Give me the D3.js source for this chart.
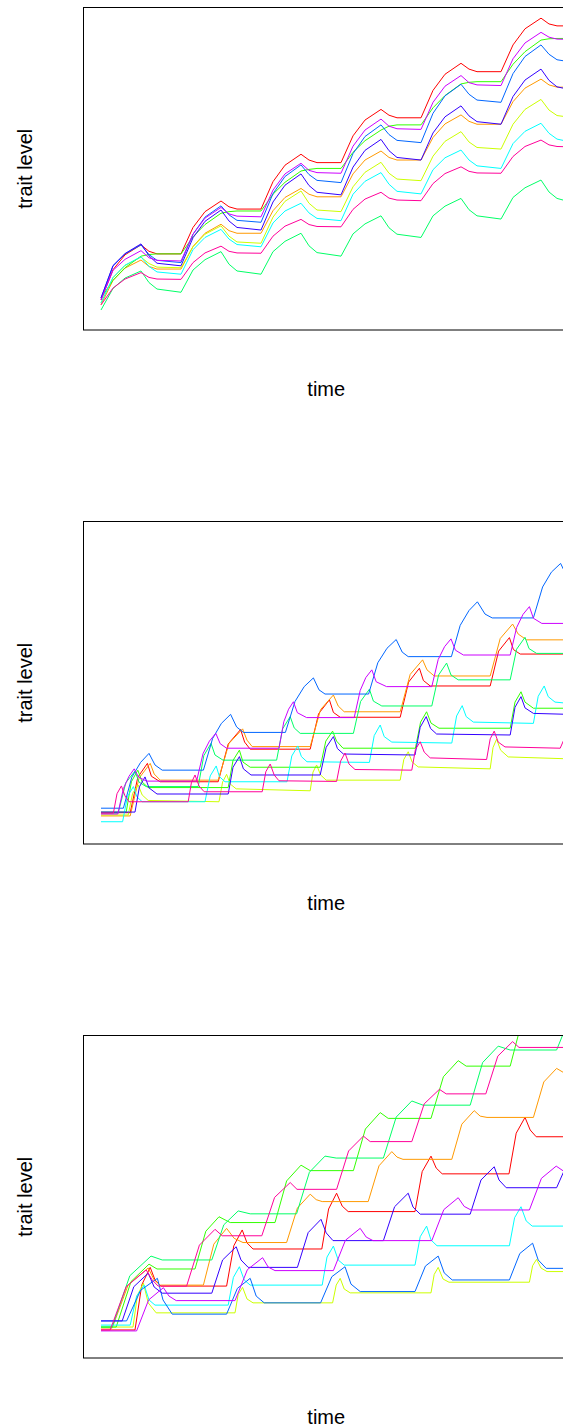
<!DOCTYPE html>
<html>
<head>
<meta charset="utf-8">
<script src="https://cdn.jsdelivr.net/npm/d3@7"></script>
<style>
  body { margin: 0; background: #fff; }
  text { font-family: "Liberation Sans", Arial, sans-serif; }
</style>
</head>
<body>
<script>
// canvas
const width = 563;
const height = 1428;

// rainbow(10) palette, drawn in this order
const colors = ['#FF0000', '#FF9900', '#CCFF00', '#33FF00', '#00FF66',
                '#00FFFF', '#0066FF', '#3300FF', '#CC00FF', '#FF0099'];

// ---------- panel 1: all series share the same time points ----------
const p1Times = [0, 3, 6, 10, 12, 14, 20, 23, 26, 30, 32, 34, 40, 43, 46, 50, 52, 54,
                 60, 63, 66, 70, 72, 74, 80, 83, 86, 90, 92, 94, 100, 103, 106, 110, 112, 114, 117];

const p1Red = [9.3, 18.7, 23.3, 26.4, 24.4, 23.6, 23.6, 31.8, 36.7, 40.0, 38.2, 37.5, 37.5, 46.0, 51.1, 54.5, 52.7, 51.9,
               51.9, 60.2, 65.1, 68.4, 66.6, 65.8, 65.8, 74.3, 79.3, 82.7, 80.9, 80.1, 80.1, 88.4, 93.4, 96.7, 94.9, 94.3, 94.3];
const p1Orange = [7.8, 15.4, 19.2, 21.7, 19.7, 18.9, 18.9, 25.9, 30.0, 32.8, 30.8, 30.0, 30.0, 37.0, 41.1, 43.9, 42.1, 41.3,
                  41.3, 48.4, 52.7, 55.5, 53.5, 52.7, 52.7, 59.7, 63.9, 66.7, 64.7, 63.8, 63.8, 70.8, 75.0, 77.8, 76.0, 75.3, 75.3];
const p1Yellow = [8.4, 16.2, 20.0, 22.6, 20.6, 19.5, 19.3, 25.8, 29.7, 32.3, 29.1, 27.3, 26.9, 35.0, 39.9, 43.1, 39.3, 37.2,
                  36.7, 44.4, 48.9, 52.0, 48.6, 46.8, 46.3, 53.9, 58.5, 61.5, 58.3, 56.6, 56.1, 63.8, 68.4, 71.5, 68.2, 66.5, 66.0];
const p1Green = [9.9, 15.4, 19.3, 22.9, 23.4, 23.6, 23.6, 28.9, 32.7, 36.2, 36.7, 36.9, 36.9, 42.1, 45.8, 49.3, 49.8, 50.1,
                 50.1, 55.1, 58.7, 62.0, 63.2, 63.6, 63.6, 68.9, 72.7, 76.3, 76.8, 77.0, 77.0, 82.4, 86.3, 89.9, 90.3, 90.4, 90.4];
const p1Spring = [6.2, 12.9, 16.1, 18.3, 14.7, 12.7, 11.7, 18.6, 21.8, 24.3, 20.4, 18.3, 17.3, 24.3, 27.5, 30.0, 26.1, 24.0,
                  22.9, 29.8, 32.9, 35.4, 31.7, 29.7, 28.7, 35.4, 38.4, 40.8, 37.3, 35.4, 34.4, 41.1, 44.1, 46.5, 42.8, 40.8, 39.8];
const p1Cyan = [8.4, 16.3, 20.1, 22.7, 19.7, 18.0, 17.3, 24.9, 28.7, 31.2, 28.2, 26.5, 25.8, 33.2, 36.9, 39.3, 36.3, 34.6,
                33.9, 42.1, 46.1, 48.8, 45.2, 43.0, 42.2, 49.7, 53.4, 55.8, 52.7, 50.9, 50.1, 57.8, 61.6, 64.1, 61.0, 59.2, 58.4];
const p1Blue = [9.9, 19.8, 23.6, 26.4, 23.4, 21.6, 20.9, 29.7, 35.0, 38.5, 35.7, 34.0, 33.4, 42.3, 47.6, 51.2, 48.2, 46.4,
                45.7, 54.7, 60.0, 63.6, 60.6, 58.8, 58.1, 67.2, 72.6, 76.2, 73.1, 71.3, 70.6, 79.5, 84.8, 88.4, 85.5, 83.8, 83.2];
const p1Indigo = [9.9, 20.0, 23.7, 26.7, 23.0, 20.7, 19.9, 28.6, 33.7, 37.2, 33.8, 31.8, 31.0, 39.7, 44.9, 48.4, 44.8, 42.7,
                  41.9, 50.5, 55.7, 59.1, 55.6, 53.5, 52.7, 61.1, 66.1, 69.5, 66.4, 64.6, 63.8, 72.4, 77.5, 80.9, 77.4, 75.4, 74.6];
const p1Violet = [9.3, 18.5, 21.9, 24.6, 22.4, 21.6, 21.4, 29.7, 34.7, 38.0, 36.0, 35.3, 35.1, 43.4, 48.4, 51.7, 49.5, 48.8,
                  48.6, 57.0, 62.0, 65.4, 63.2, 62.4, 62.2, 70.6, 75.6, 78.9, 76.7, 76.0, 75.8, 84.1, 89.0, 92.3, 90.8, 90.2, 90.1];
const p1Pink = [7.8, 13.0, 15.8, 17.8, 16.3, 15.8, 15.7, 20.9, 23.9, 26.0, 24.4, 23.9, 23.8, 29.1, 32.2, 34.3, 32.7, 32.1,
                32.0, 37.4, 40.6, 42.7, 40.9, 40.3, 40.1, 45.4, 48.5, 50.6, 49.2, 48.7, 48.6, 53.8, 56.9, 58.9, 57.4, 56.9, 56.8];

// ---------- panel 2: [time, trait level] per series ----------
const p2Red = [[0,9.7],[7.3,9.7],[9.2,20.7],[11.6,25.0],[12.6,21.0],[14.8,19.3],[29.3,19.3],[31.8,31.0],[34.9,35.5],[35.9,31.6],[37.3,29.4],[52.3,29.4],[54.4,40.4],[57.1,44.7],[58.1,40.8],[59.8,39.3],[74.8,39.3],[76.9,50.2],[79.6,54.5],[80.6,50.7],[82.3,49.0],[97.3,49.0],[99.4,59.8],[102.1,64.0],[103.1,60.3],[104.8,58.9],[117,58.9]];
const p2Orange = [[0,8.7],[7.3,8.7],[9.5,20.4],[12.3,25.0],[13.3,21.7],[14.8,19.8],[29.3,19.8],[32,31.2],[35.4,35.7],[36.5,32.2],[37.8,30.2],[52.3,30.2],[54.9,41.7],[58.1,46.2],[59.3,42.8],[60.8,41.0],[74.8,41.0],[77.3,52.6],[80.4,57.1],[81.5,54.0],[83.3,52.1],[97.3,52.1],[99.8,63.7],[102.9,68.2],[104.3,65.1],[106.4,63.3],[117,63.3]];
const p2Yellow = [[0,9.0],[6.8,9.0],[7.9,15.7],[9.3,18.3],[10.3,15.2],[11.8,13.5],[29.5,13.1],[30.4,19.2],[31.4,21.6],[32.3,18.6],[33.8,17.1],[52.3,16.5],[53,22.3],[53.9,24.5],[54.9,21.4],[56.3,19.8],[74.8,19.8],[75.7,26.2],[76.8,28.6],[77.8,25.4],[79.3,23.9],[97.3,23.3],[98,29.9],[98.9,32.5],[99.9,29.1],[101.8,27.0],[117,26.4]];
const p2Green = [[0,9.9],[6.3,9.9],[7.6,19.3],[9.2,22.9],[10.3,19.2],[11.8,17.5],[31.8,17.5],[33.0,25.9],[34.6,29.1],[35.5,25.4],[37.3,23.8],[54.8,23.8],[56.2,31.9],[57.9,35.0],[58.9,31.9],[60.5,29.7],[78.6,29.7],[79.9,37.8],[81.4,41.0],[82.5,37.5],[84.5,35.9],[102.3,35.9],[103.5,44.0],[105,47.2],[106,44.0],[108.1,42.1],[117,42.1]];
const p2Spring = [[0,9.6],[4.3,9.6],[6.2,19.0],[8.5,22.6],[9.5,19.2],[11.3,17.8],[24.3,17.8],[25.7,27.4],[27.5,31.2],[28.5,27.6],[30.5,26.0],[43.9,26.0],[45.4,35.7],[47.3,39.5],[48.3,36.0],[49.8,34.3],[63.1,34.3],[64.9,44.2],[67.1,48.0],[68.1,44.3],[70.2,42.8],[82.7,42.8],[84.4,52.4],[86.4,56.1],[87.5,52.4],[89.3,50.9],[102.3,50.9],[103.9,60.4],[106,64.1],[107,60.6],[108.9,59.1],[117,59.1]];
const p2Cyan = [[0,6.9],[5.4,6.9],[6.6,14.7],[8.1,17.8],[9,14.6],[10.3,13.1],[26,13.1],[27.3,21.1],[28.8,24.2],[29.6,20.9],[31,19.3],[46.5,19.3],[47.7,27.3],[49.2,30.4],[50.1,27.1],[51.5,25.5],[67.1,25.3],[68.3,33.6],[69.8,36.9],[70.8,33.3],[72.7,31.6],[87.7,31.3],[88.9,39.7],[90.3,42.9],[91.3,39.5],[93.1,37.8],[108.1,37.4],[109.3,45.8],[110.8,49.0],[111.8,45.7],[113.5,44.0],[117,43.6]];
const p2Blue = [[0,11.1],[5.6,11.1],[7.7,20.7],[9.9,25.3],[12.0,28.1],[13.5,24.5],[15.3,22.9],[25.6,22.9],[27.9,32.7],[30.1,37.4],[32.4,40.2],[33.9,36.3],[35.6,34.6],[46.1,34.6],[48.5,44.2],[50.8,48.8],[53.1,51.5],[54.5,47.8],[56,46.5],[66.9,46.5],[69.2,56.2],[71.5,60.7],[73.8,63.4],[75.3,59.5],[76.8,58.1],[87.6,58.1],[89.8,67.8],[92.0,72.4],[94.1,75.1],[96,71.3],[97.8,70.1],[108.1,70.1],[110.4,79.7],[112.6,84.3],[114.9,87.0],[116.3,83.4],[117,82.5]];
const p2Indigo = [[0,9.9],[8.5,9.9],[9.6,17.7],[11,20.8],[12,17.4],[14,15.5],[31.8,15.5],[33.0,23.8],[34.6,27.1],[35.6,23.3],[37.5,21.4],[54.8,21.4],[56.3,30.0],[58.1,33.3],[59.1,29.6],[60.6,27.9],[78.5,27.6],[79.8,36.2],[81.3,39.5],[82.4,35.8],[83.9,34.1],[102.3,33.8],[103.5,42.4],[105,45.7],[106,42.2],[108.1,40.5],[117,40.2]];
const p2Violet = [[0,9.3],[4.2,9.3],[5.6,17.2],[7.0,21.0],[8.3,23.3],[9.4,20.7],[11.4,19.5],[23.9,19.5],[25.5,28.0],[27.1,31.9],[28.7,34.3],[29.8,31.1],[31.4,29.7],[44.5,29.7],[45.7,37.9],[46.9,41.8],[48.1,44.1],[49.1,40.7],[51.4,39.2],[63.3,39.2],[64.8,47.6],[66.2,51.6],[67.7,54.0],[68.8,50.3],[71.4,48.8],[82.7,48.8],[84.3,57.2],[85.9,61.2],[87.5,63.6],[88.6,60.1],[90.6,58.6],[102.3,58.6],[103.9,67.1],[105.5,71.2],[107.1,73.6],[108.1,70.0],[110.2,68.4],[117,68.4]];
const p2Pink = [[0,9.6],[3.1,9.6],[4,15.6],[5.1,18.0],[6,14.9],[7,13.1],[21.8,13.1],[22.6,19.0],[23.5,21.4],[24.5,18.0],[25.8,16.2],[40.3,16.2],[41.2,22.4],[42.3,24.8],[43.3,21.4],[44.5,19.6],[58.9,19.4],[59.9,25.7],[61,28.2],[62,24.8],[63.5,23.1],[77.7,22.9],[78.6,29.3],[79.8,31.7],[80.8,28.5],[82.3,26.7],[96.4,26.2],[97.3,32.6],[98.3,35.0],[99.3,31.6],[101,30.1],[114.8,29.7],[117,36.0]];

// ---------- panel 3: [time, trait level] per series ----------
const p3Red = [[0,8.7],[8.5,8.7],[10.2,22.7],[12.3,28.1],[13.5,24.2],[15,22.3],[31.4,22.3],[33.2,34.8],[35.3,39.7],[36.5,35.7],[38,33.8],[55.2,33.8],[56.9,46.2],[58.9,51.1],[60.3,47.1],[61.8,45.4],[78.5,45.4],[80.3,57.8],[82.5,62.6],[83.8,58.9],[85.3,57.1],[102,57.1],[103.8,69.7],[106,74.6],[107.3,70.7],[108.8,68.6],[117,68.6]];
const p3Orange = [[0,9.3],[2.8,9.3],[6.8,22.7],[11.8,27.9],[13.3,24.2],[14.8,22.6],[25.6,22.6],[28.2,35.3],[31.4,40.2],[33.3,37.1],[35.5,35.8],[46.4,35.8],[49.1,46.5],[52.3,50.8],[53.8,49.1],[55.3,48.5],[66.8,48.5],[69.5,59.6],[72.7,64.0],[74,62.3],[75.5,61.6],[87.7,61.6],[90.2,72.5],[93.3,76.7],[94.8,75.0],[96.5,74.6],[108.1,74.6],[110.7,85.6],[113.9,89.8],[117,87.5]];
const p3Yellow = [[0,9.6],[8,9.6],[9.1,19.4],[10.6,23.2],[11.8,17.1],[13.8,14.0],[33.5,14.0],[34.3,19.7],[35.4,21.9],[36.5,18.3],[38,17.1],[57.9,17.1],[58.8,22.6],[59.8,24.7],[60.8,21.4],[62.3,20.2],[82.5,20.2],[83.3,25.9],[84.3,28.1],[85.5,24.5],[87,23.5],[107.1,23.5],[107.9,28.6],[108.9,30.6],[110,27.9],[111.5,26.8],[117,26.8]];
const p3Green = [[0,9.6],[3.8,9.6],[7.5,23.7],[12,29.1],[14,27.6],[23.5,27.6],[26.2,39.3],[29.5,43.8],[32.3,42.0],[43.5,42.0],[46.4,54.9],[50,59.8],[52.3,58.1],[63.1,58.1],[66.1,71.0],[69.8,76.1],[71.8,74.3],[82.5,74.3],[85.6,87.2],[89.3,92.2],[91.3,90.5],[102.3,90.5],[105.3,104.8],[117,115.0]];
const p3Spring = [[0,9.6],[2.8,9.6],[7.2,25.5],[12.5,31.6],[15.3,30.4],[27.7,30.4],[30.7,41.3],[34.3,45.6],[37.3,44.7],[48.9,44.7],[52.1,57.6],[56,62.6],[58.8,62.0],[70.6,62.0],[73.8,74.7],[77.7,79.7],[80.5,78.4],[92.3,78.4],[95.4,91.6],[99.3,96.7],[102.3,95.5],[113.9,95.5],[117,105.0]];
const p3Cyan = [[0,10.2],[7.3,10.2],[8.9,19.2],[10.8,22.6],[12,18.0],[13.5,16.4],[31.8,16.4],[33.1,25.0],[34.6,28.3],[35.8,24.2],[37.3,22.6],[55.3,22.6],[56.5,31.3],[58.1,34.7],[59.3,30.4],[60.8,28.8],[78.5,28.8],[79.8,37.6],[81.4,40.9],[82.5,36.6],[84,34.8],[102.1,34.8],[103.4,43.5],[105,46.9],[106.3,42.5],[107.8,40.9],[117,40.9]];
const p3Blue = [[0,11.5],[6.4,11.5],[9.9,21.0],[14.1,24.7],[15.5,18.0],[17.8,13.6],[31.4,13.6],[34.1,21.6],[37.3,24.7],[38.8,19.2],[40.8,17.1],[54.9,17.1],[57.7,25.2],[61,28.3],[62.5,22.9],[64.8,20.6],[78.5,20.6],[81.1,28.5],[84.3,31.6],[85.8,26.4],[87.8,24.2],[102.1,24.2],[104.7,32.4],[107.9,35.6],[109.3,30.4],[111.3,27.8],[117,27.8]];
const p3Indigo = [[0,11.5],[5.3,11.5],[8.2,22.1],[11.8,26.3],[13.3,22.0],[15.3,20.1],[27.7,20.1],[30.4,30.4],[33.8,34.5],[35,30.4],[36.8,28.1],[49.1,28.1],[51.8,38.9],[55,43.0],[56.3,38.8],[58,36.4],[70.6,36.4],[73.4,46.9],[76.8,51.1],[78,46.8],[79.8,44.6],[92.3,44.6],[95,55.2],[98.3,59.3],[99.5,55.2],[101.3,52.8],[113.9,52.8],[117,61.5]];
const p3Violet = [[0,8.4],[8.9,8.4],[11.9,18.0],[15.6,21.8],[17,19.2],[18.8,17.8],[33.5,17.8],[36.6,27.4],[40.4,31.1],[41.8,28.2],[43.5,27.1],[58.1,27.1],[61.1,36.5],[64.8,40.2],[66.3,37.5],[68,36.4],[82.7,36.4],[85.7,46.0],[89.3,49.7],[90.8,47.0],[92.5,45.9],[107.1,45.9],[110.1,55.7],[113.8,59.5],[117,56.8]];
const p3Pink = [[0,8.7],[2.3,8.7],[6.3,22.1],[11.3,27.3],[12.8,24.2],[14.3,22.3],[21.4,22.3],[24.6,35.0],[28.5,39.9],[30.3,37.9],[40.2,37.9],[43.4,49.8],[47.3,54.4],[49,52.3],[58.9,52.3],[61.9,64.2],[65.6,68.8],[67.3,67.1],[77.7,67.1],[80.8,78.8],[84.6,83.3],[86.3,81.9],[96.2,81.9],[99.2,93.6],[102.9,98.1],[104.5,96.3],[117,96.3]];

// build the per-panel series lists
const panel1 = [p1Red, p1Orange, p1Yellow, p1Green, p1Spring, p1Cyan, p1Blue, p1Indigo, p1Violet, p1Pink]
  .map(vals => vals.map((v, i) => [p1Times[i], v]));
const panel2 = [p2Red, p2Orange, p2Yellow, p2Green, p2Spring, p2Cyan, p2Blue, p2Indigo, p2Violet, p2Pink];
const panel3 = [p3Red, p3Orange, p3Yellow, p3Green, p3Spring, p3Cyan, p3Blue, p3Indigo, p3Violet, p3Pink];
const panels = [panel1, panel2, panel3];

// layout
const panelTop = [7.5, 521.5, 1035.5];
const plotH = 322.5;
const boxLeft = 83.5;
const boxRight = 569;

const svg = d3.select('body')
  .append('svg')
  .attr('width', width)
  .attr('height', height);

// time scale shared by all panels
const x = d3.scaleLinear()
  .domain([0, 117])
  .range([101, 569]);

panels.forEach((seriesList, i) => {
  const top = panelTop[i];
  const bottom = top + plotH;

  const y = d3.scaleLinear()
    .domain([0, 100])
    .range([bottom, top]);

  svg.append('clipPath')
    .attr('id', 'clip' + i)
    .append('rect')
    .attr('x', boxLeft)
    .attr('y', top)
    .attr('width', boxRight - boxLeft)
    .attr('height', plotH);

  const line = d3.line()
    .x(d => x(d[0]))
    .y(d => y(d[1]));

  svg.append('g')
    .attr('clip-path', `url(#clip${i})`)
    .selectAll('path')
    .data(seriesList)
    .enter()
    .append('path')
    .attr('fill', 'none')
    .attr('stroke', (d, j) => colors[j])
    .attr('stroke-width', 1)
    .attr('d', line);

  // plot box
  svg.append('rect')
    .attr('x', boxLeft)
    .attr('y', top)
    .attr('width', boxRight - boxLeft)
    .attr('height', plotH)
    .attr('fill', 'none')
    .attr('stroke', '#000')
    .attr('stroke-width', 1);

  // axis titles
  svg.append('text')
    .attr('x', (boxLeft + boxRight) / 2)
    .attr('y', bottom + 66)
    .attr('text-anchor', 'middle')
    .attr('font-size', 20)
    .attr('fill', '#000')
    .text('time');

  svg.append('text')
    .attr('transform', `translate(32, ${(top + bottom) / 2}) rotate(-90)`)
    .attr('text-anchor', 'middle')
    .attr('font-size', 20)
    .attr('fill', '#000')
    .text('trait level');
});
</script>
</body>
</html>
